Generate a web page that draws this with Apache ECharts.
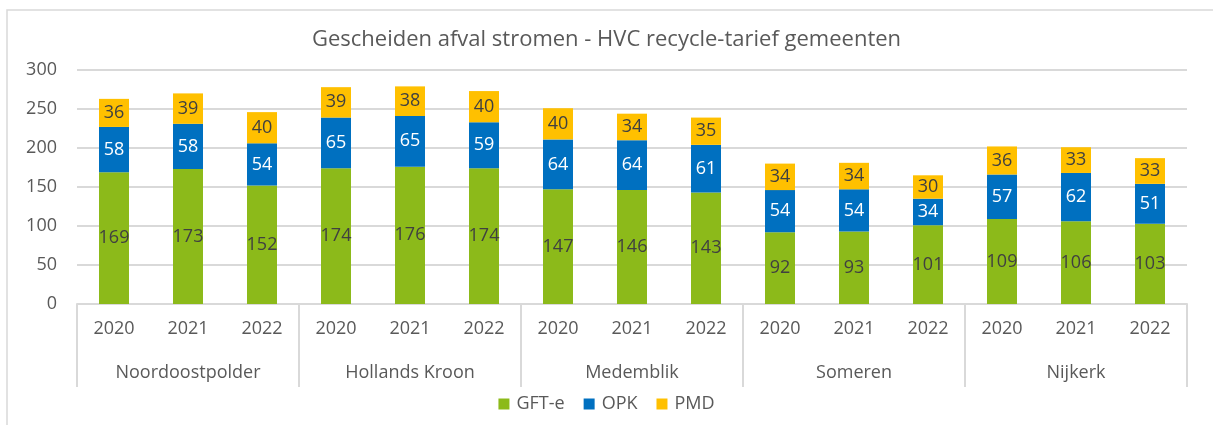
<!DOCTYPE html>
<html>
<head>
<meta charset="utf-8">
<script src="https://cdn.jsdelivr.net/npm/echarts@6/dist/echarts.min.js"></script>
<style>
  html, body { margin: 0; padding: 0; background: #fff; }
  #chart { width: 1213px; height: 425px; }
</style>
</head>
<body>
<div id="chart"></div>
<script>
// data
var years = ["2020", "2021", "2022"];
var gemeenten = ["Noordoostpolder", "Hollands Kroon", "Medemblik", "Someren", "Nijkerk"];
var gfte = [169, 173, 152, 174, 176, 174, 147, 146, 143, 92, 93, 101, 109, 106, 103];
var opk = [58, 58, 54, 65, 65, 59, 64, 64, 61, 54, 54, 34, 57, 62, 51];
var pmd = [36, 39, 40, 39, 38, 40, 40, 34, 35, 34, 34, 30, 36, 33, 33];
var yTicks = [0, 50, 100, 150, 200, 250, 300];

var categories = [];
gemeenten.forEach(function (g) {
  years.forEach(function (y) { categories.push(g + "\n" + y); });
});

var font = "'Open Sans', 'Noto Sans', sans-serif";
var grey = "#595959";

var chart = echarts.init(document.getElementById("chart"));

function serie(name, data, color, labelColor) {
  return {
    name: name,
    type: "bar",
    stack: "total",
    data: data,
    barWidth: 30,
    itemStyle: { color: color },
    label: {
      show: true,
      position: "inside",
      color: labelColor,
      fontFamily: font,
      fontSize: 18
    }
  };
}

chart.setOption({
  animation: false,
  title: {
    text: "Gescheiden afval stromen - HVC recycle-tarief gemeenten",
    left: "center",
    top: 24,
    textStyle: { color: grey, fontFamily: font, fontSize: 22, fontWeight: "normal" }
  },
  graphic: [{
    type: "polyline",
    shape: { points: [[1220, 10], [7, 10], [7, 440]] },
    style: { stroke: "#d9d9d9", lineWidth: 1.5, fill: null }
  }],
  legend: {
    bottom: 7,
    left: "center",
    icon: "rect",
    itemWidth: 11,
    itemHeight: 11,
    itemGap: 19,
    textStyle: { color: grey, fontFamily: font, fontSize: 18, padding: [0, 0, 0, 2] }
  },
  grid: { left: 77, right: 26, top: 70, bottom: 121 },
  xAxis: [
    {
      type: "category",
      data: categories,
      axisLine: { lineStyle: { color: "#d9d9d9", width: 2 } },
      axisTick: { show: false },
      axisLabel: {
        color: grey,
        fontFamily: font,
        fontSize: 18,
        margin: 16,
        formatter: function (v) { return v.split("\n")[1]; }
      }
    },
    {
      type: "category",
      position: "bottom",
      data: gemeenten,
      axisLine: { show: false },
      axisTick: { show: true, length: 83, lineStyle: { color: "#d9d9d9", width: 2 } },
      axisLabel: { color: grey, fontFamily: font, fontSize: 18, margin: 60 }
    }
  ],
  yAxis: {
    type: "value",
    min: yTicks[0],
    max: yTicks[yTicks.length - 1],
    interval: 50,
    axisLine: { show: false },
    axisTick: { show: false },
    splitLine: { lineStyle: { color: "#d9d9d9", width: 2 } },
    axisLabel: { color: grey, fontFamily: font, fontSize: 18, margin: 20 }
  },
  series: [
    serie("GFT-e", gfte, "#8cba1a", "#404040"),
    serie("OPK", opk, "#0070c0", "#ffffff"),
    serie("PMD", pmd, "#ffc000", "#404040")
  ]
});
</script>
</body>
</html>
